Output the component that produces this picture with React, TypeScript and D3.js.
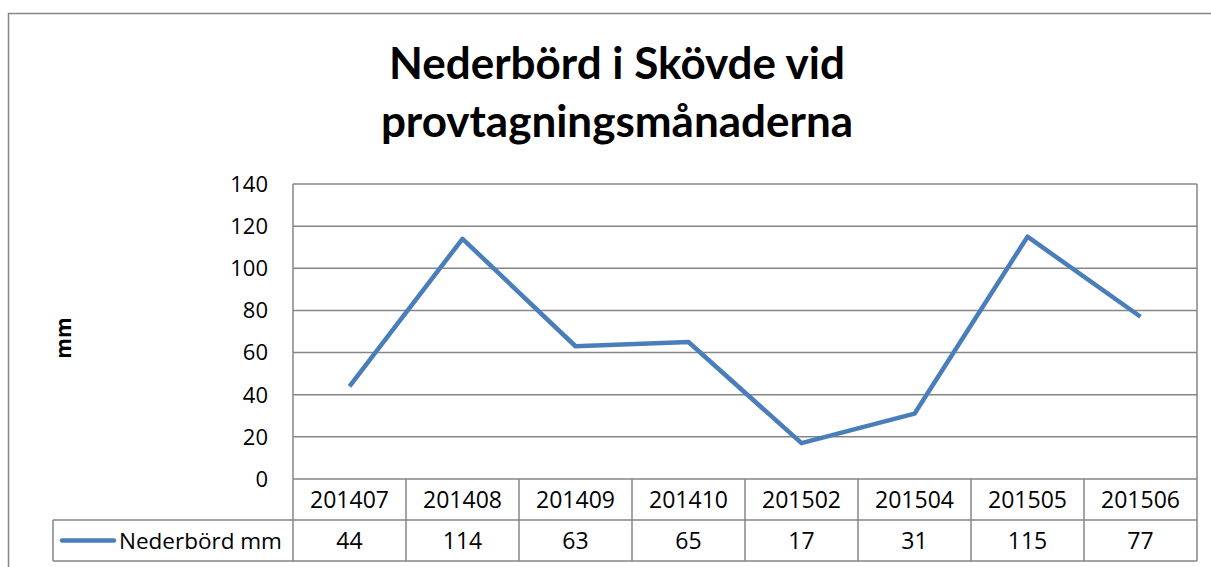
import React, { useEffect, useRef } from 'react';
import * as d3 from 'd3';

const months = ['201407', '201408', '201409', '201410', '201502', '201504', '201505', '201506'];
const rainMm = [44, 114, 63, 65, 17, 31, 115, 77];
const yTicks = [0, 20, 40, 60, 80, 100, 120, 140];
const seriesName = 'Nederbörd mm';
const titleLines = ['Nederbörd i Skövde vid', 'provtagningsmånaderna'];
const yLabel = 'mm';

const TITLE_FONT = 'Lato, "Open Sans", sans-serif';
const FONT = '"Open Sans", Lato, sans-serif';
const GRID = '#868686';
const LINE = '#4a7ebb';

const drawChart = (el: SVGSVGElement) => {
    const svg = d3.select(el);
    svg.selectAll('*').remove();

    // plot area
    const left = 293, right = 1197, top = 184, bottom = 479;
    const rowH = 41;

    // outer chart border
    svg.append('rect')
        .attr('x', 8.5).attr('y', 13.5)
        .attr('width', 1230).attr('height', 600)
        .attr('fill', 'white')
        .attr('stroke', GRID).attr('stroke-width', 1.5);

    // title
    svg.append('g').selectAll('text')
        .data(titleLines)
        .enter().append('text')
        .attr('x', 617)
        .attr('y', (d, i) => 79 + i * 58)
        .attr('text-anchor', 'middle')
        .style('font-family', TITLE_FONT)
        .style('font-size', '44px')
        .style('font-weight', 'bold')
        .text(d => d);

    let x = d3.scaleBand()
        .domain(months)
        .range([left, right]);

    let y = d3.scaleLinear()
        .domain([0, 140])
        .range([bottom, top]);

    // gridlines
    svg.append('g').selectAll('line')
        .data(yTicks)
        .enter().append('line')
        .attr('x1', left).attr('x2', right)
        .attr('y1', d => y(d)).attr('y2', d => y(d))
        .attr('stroke', GRID).attr('stroke-width', 1.5);

    // left axis line
    svg.append('line')
        .attr('x1', left).attr('x2', left)
        .attr('y1', top).attr('y2', bottom + 2 * rowH)
        .attr('stroke', GRID).attr('stroke-width', 1.5);

    // y tick labels
    svg.append('g').selectAll('text')
        .data(yTicks)
        .enter().append('text')
        .attr('x', 268)
        .attr('y', d => y(d))
        .attr('dy', '0.36em')
        .attr('text-anchor', 'end')
        .style('font-family', FONT)
        .style('font-size', '22px')
        .text(d => d);

    // y axis label
    svg.append('text')
        .attr('transform', 'translate(71,338) rotate(-90)')
        .attr('text-anchor', 'middle')
        .style('font-family', FONT)
        .style('font-size', '21px')
        .style('font-weight', 'bold')
        .text(yLabel);

    // data table
    const tableLeft = 53;
    const table = svg.append('g');
    table.append('line')
        .attr('x1', left).attr('x2', right)
        .attr('y1', bottom + rowH).attr('y2', bottom + rowH)
        .attr('stroke', GRID).attr('stroke-width', 1.5);
    table.append('line')
        .attr('x1', tableLeft).attr('x2', left)
        .attr('y1', bottom + rowH).attr('y2', bottom + rowH)
        .attr('stroke', GRID).attr('stroke-width', 1.5);
    table.append('line')
        .attr('x1', tableLeft).attr('x2', right)
        .attr('y1', bottom + 2 * rowH).attr('y2', bottom + 2 * rowH)
        .attr('stroke', GRID).attr('stroke-width', 1.5);
    table.append('line')
        .attr('x1', tableLeft).attr('x2', tableLeft)
        .attr('y1', bottom + rowH).attr('y2', bottom + 2 * rowH)
        .attr('stroke', GRID).attr('stroke-width', 1.5);

    // vertical column lines (last one is the plot's right edge)
    table.selectAll('.col')
        .data(months)
        .enter().append('line')
        .attr('class', 'col')
        .attr('x1', d => (x(d) as number) + x.bandwidth())
        .attr('x2', d => (x(d) as number) + x.bandwidth())
        .attr('y1', (d, i) => i === months.length - 1 ? top : bottom)
        .attr('y2', bottom + 2 * rowH)
        .attr('stroke', GRID).attr('stroke-width', 1.5);

    // month labels
    table.selectAll('.month')
        .data(months)
        .enter().append('text')
        .attr('class', 'month')
        .attr('x', d => (x(d) as number) + x.bandwidth() / 2)
        .attr('y', bottom + rowH / 2)
        .attr('dy', '0.36em')
        .attr('text-anchor', 'middle')
        .style('font-family', FONT)
        .style('font-size', '23px')
        .text(d => d);

    // value labels
    table.selectAll('.val')
        .data(months)
        .enter().append('text')
        .attr('class', 'val')
        .attr('x', d => (x(d) as number) + x.bandwidth() / 2)
        .attr('y', bottom + rowH * 1.5)
        .attr('dy', '0.36em')
        .attr('text-anchor', 'middle')
        .style('font-family', FONT)
        .style('font-size', '23px')
        .text((d, i) => rainMm[i]);

    // legend key
    table.append('line')
        .attr('x1', 62).attr('x2', 114)
        .attr('y1', bottom + rowH * 1.5).attr('y2', bottom + rowH * 1.5)
        .attr('stroke', LINE).attr('stroke-width', 4.5)
        .attr('stroke-linecap', 'round');
    table.append('text')
        .attr('x', 119)
        .attr('y', bottom + rowH * 1.5)
        .attr('dy', '0.36em')
        .style('font-family', FONT)
        .style('font-size', '22.5px')
        .text(seriesName);

    // the line
    svg.append('path')
        .datum(rainMm)
        .attr('fill', 'none')
        .attr('stroke', LINE)
        .attr('stroke-width', 4.5)
        .attr('stroke-linejoin', 'round')
        .attr('d', d3.line<number>()
            .x((d, i) => (x(months[i]) as number) + x.bandwidth() / 2)
            .y(d => y(d))
        );
};

const App = () => {
    const ref = useRef<SVGSVGElement>(null);

    useEffect(() => {
        if (ref.current) drawChart(ref.current);
    }, []);

    return (
        <svg ref={ref} width={1211} height={567}
            style={{ position: 'absolute', left: 0, top: 0, display: 'block' }} />
    );
};

export default App;
